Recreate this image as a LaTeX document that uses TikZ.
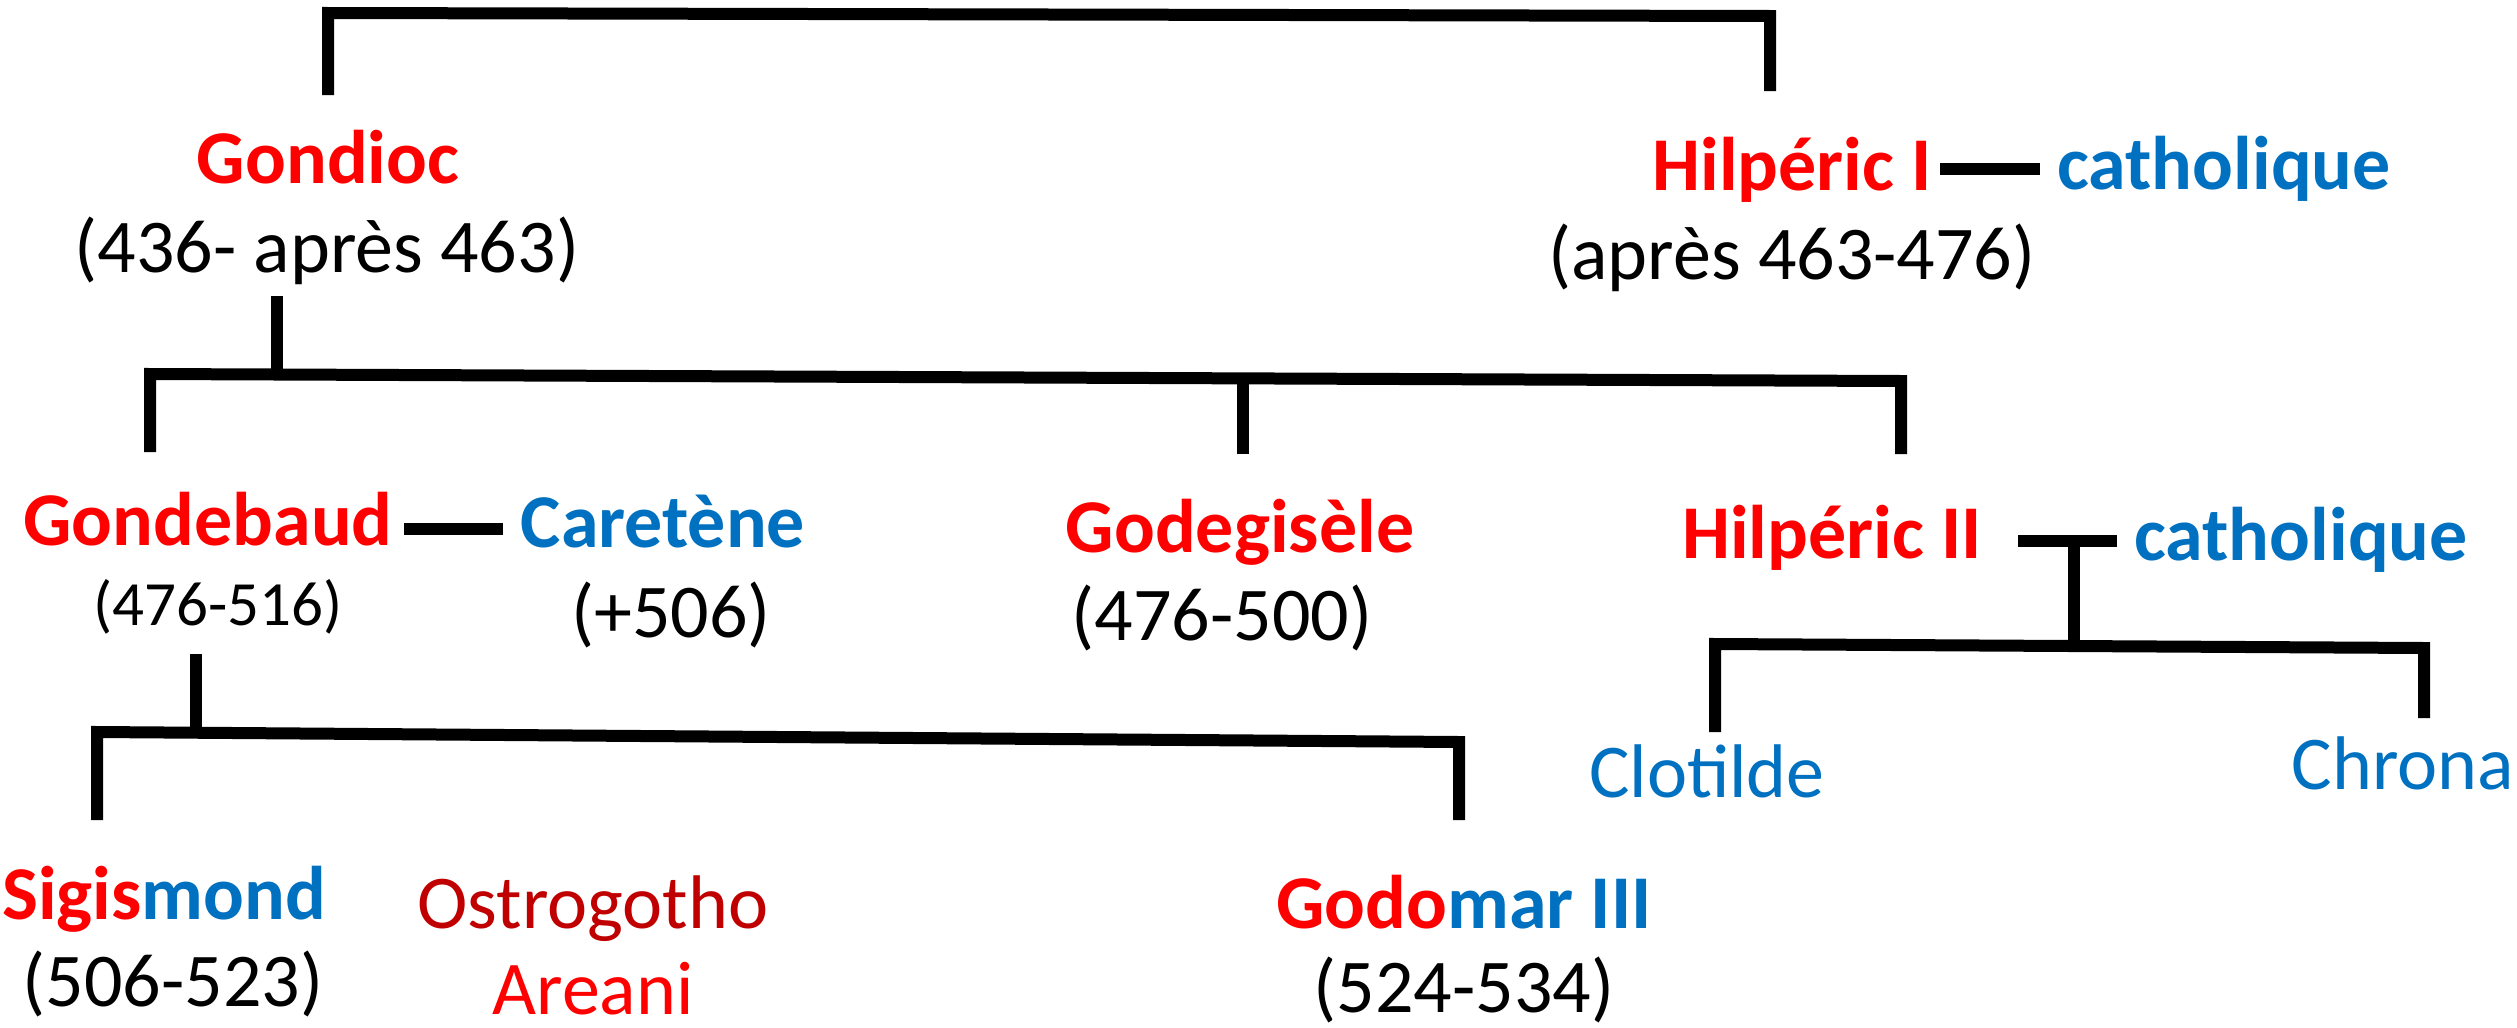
\documentclass[tikz,border=0pt]{standalone}
\usepackage{fontspec}
\setmainfont{Carlito}
\definecolor{rd}{HTML}{FF0000}
\definecolor{bl}{HTML}{0070C0}
\definecolor{dr}{HTML}{C00000}
\begin{document}
\begin{tikzpicture}[x=1pt,y=-1pt,
  base/.style={anchor=base,inner sep=0pt,font=\fontsize{76}{90}\selectfont},
  ruler/.style={base,font=\fontsize{76}{90}\selectfont\bfseries,text=rd},
  spouse/.style={base,font=\fontsize{76}{90}\selectfont\bfseries,text=bl},
  child/.style={base,text=bl},
  datetxt/.style={base,text=black},
  smalldate/.style={base,font=\fontsize{63}{72}\selectfont,text=black},
  link/.style={line width=12pt,line cap=butt,line join=miter,draw=black}]
\useasboundingbox (0,0) rectangle (2517,1028);
% texts
\node[ruler] (gondioc) at (328,183) {Gondioc};
\node[datetxt] (gondiocd) at (327,272) {(436- après 463)};
\node[ruler] (hilp1) at (1792,190) {Hilpéric I};
\node[spouse] (cath1) at (2224,189) {catholique};
\node[datetxt] (hilp1d) at (1792,279) {(après 463-476)};
\node[ruler] (gondebaud) at (208,545) {Gondebaud};
\node[smalldate] (gondebaudd) at (218,625) {(476-516)};
\node[spouse] (caretene) at (663,547) {Caretène};
\node[datetxt] (careted) at (671,637) {(+506)};
\node[ruler] (godeg) at (1240,552) {Godegisèle};
\node[datetxt] (godegd) at (1222,640) {(476-500)};
\node[ruler] (hilp2) at (1832,558) {Hilpéric II};
\node[spouse] (cath2) at (2301,560) {catholique};
\node[child] (clotilde) at (1707,797) {Clotilde};
\node[child] (chrona) at (2403,789) {Chrona};
\node[ruler] (sigis) at (164,919) {Sigis\textcolor{bl}{mond}};
\node[datetxt] (sigisd) at (173,1006) {(506-523)};
\node[base,text=dr] (ostro) at (593,928) {Ostrogotho};
\node[base,text=rd] (areani) at (593,1014) {Areani};
\node[ruler] (godomar) at (1464,928) {Godo\textcolor{bl}{mar III}};
\node[datetxt] (godomard) at (1464,1012) {(524-534)};
% coordinates
\coordinate (a1) at (328,95);
\coordinate (a2) at (328,13);
\coordinate (a3) at (1770,16);
\coordinate (a4) at (1770,91);
\coordinate (b0) at (277,296);
\coordinate (b1) at (150,452);
\coordinate (b2) at (150,374);
\coordinate (b3) at (1901,381);
\coordinate (b4) at (1901,454);
\coordinate (bm) at (1243,379);
\coordinate (bm2) at (1243,454);
\coordinate (c0) at (196,654);
\coordinate (cj) at (196,733);
\coordinate (c1) at (97,820);
\coordinate (c2) at (97,732);
\coordinate (c3) at (1459,742);
\coordinate (c4) at (1459,820);
\coordinate (d1) at (1715,732);
\coordinate (d2) at (1715,644);
\coordinate (d3) at (2424,648);
\coordinate (d4) at (2424,718);
\coordinate (dm) at (2074,541);
\coordinate (dl) at (2018,541);
\coordinate (dr) at (2117,541);
\coordinate (s1a) at (1940,169);
\coordinate (s1b) at (2040,169);
\coordinate (s2a) at (404,529);
\coordinate (s2b) at (503,529);
% connectors
\draw[link] (a1) -- (a2) -- (a3) -- (a4);
\draw[link] (b0) -- (b0 |- b2);
\draw[link] (b1) -- (b2) -- (b3) -- (b4);
\draw[link] (bm) -- (bm2);
\draw[link] (c0) -- (cj);
\draw[link] (c1) -- (c2) -- (c3) -- (c4);
\draw[link] (d1) -- (d2) -- (d3) -- (d4);
\draw[link] (dl) -- (dr);
\draw[link] (dm) -- (dm |- d3);
\draw[link] (s1a) -- (s1b);
\draw[link] (s2a) -- (s2b);
\end{tikzpicture}
\end{document}
